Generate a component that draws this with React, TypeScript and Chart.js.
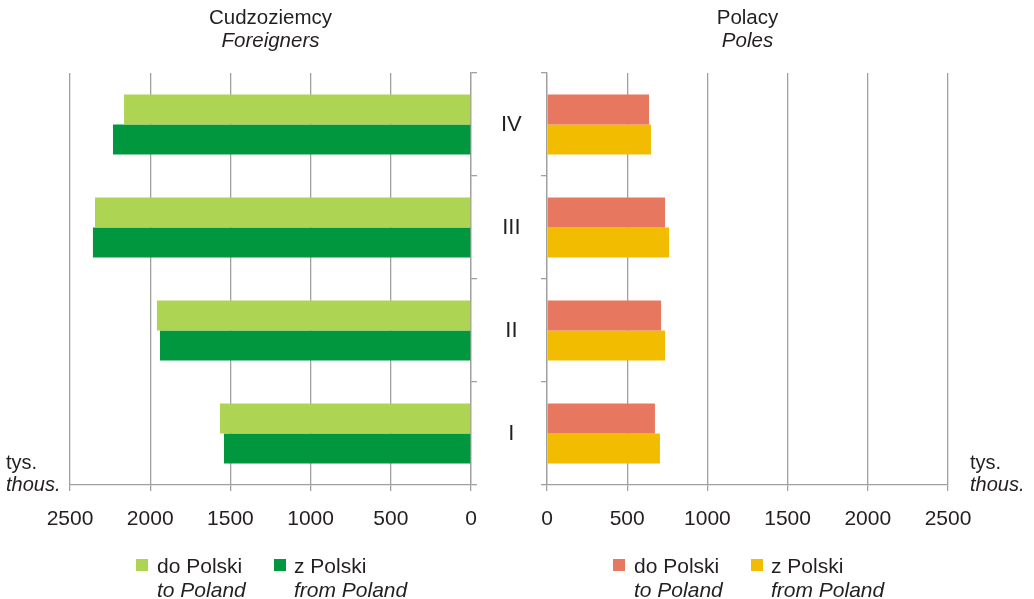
import React, { useEffect, useRef } from "react";
import { Chart, registerables } from "chart.js";

Chart.register(...registerables);

const quarters = ["I", "II", "III", "IV"];
const foreignersToPoland = [1565, 1958, 2344, 2163];
const foreignersFromPoland = [1540, 1939, 2357, 2232];
const polesToPoland = [673, 711, 736, 636];
const polesFromPoland = [704, 736, 761, 648];
const axisTicks = [0, 500, 1000, 1500, 2000, 2500];

const FONT = "'Liberation Sans', Arial, sans-serif";
const TEXT = "#231f20";
const GRID = "#a0a0a0";

const leftColors = ["#add452", "#00973f"];
const rightColors = ["#e8775f", "#f2bd00"];

const legendLabels = [
  ["do Polski", "to Poland"],
  ["z Polski", "from Poland"],
];

function makeTextPlugin(title: string, subtitle: string, colors: string[], unitX: number) {
  return {
    id: "panelText",
    afterDraw(chart: any) {
      const { ctx, chartArea } = chart;
      const cx = (chartArea.left + chartArea.right) / 2;
      ctx.save();
      ctx.fillStyle = TEXT;
      ctx.textBaseline = "alphabetic";
      ctx.textAlign = "center";
      ctx.font = `20.5px ${FONT}`;
      ctx.fillText(title, cx, 24);
      ctx.font = `italic 20.5px ${FONT}`;
      ctx.fillText(subtitle, cx, 46.5);
      // unit
      ctx.textAlign = "left";
      ctx.font = `20px ${FONT}`;
      ctx.fillText("tys.", unitX, 469);
      ctx.font = `italic 20px ${FONT}`;
      ctx.fillText("thous.", unitX, 490.5);
      // legend
      const offs = [
        [66, 87],
        [204, 224],
      ];
      for (let i = 0; i < 2; i++) {
        const sx = chartArea.left + offs[i][0];
        const tx = chartArea.left + offs[i][1];
        ctx.fillStyle = colors[i];
        ctx.fillRect(sx, 559, 12, 12);
        ctx.fillStyle = TEXT;
        ctx.font = `21px ${FONT}`;
        ctx.fillText(legendLabels[i][0], tx, 573);
        ctx.font = `italic 21px ${FONT}`;
        ctx.fillText(legendLabels[i][1], tx, 597);
      }
      ctx.restore();
    },
  };
}

const LEFT_W = 540;
const RIGHT_X = 520;
const RIGHT_W = 1034 - RIGHT_X;

function buildConfig(side: "left" | "right"): any {
  const isLeft = side === "left";
  const colors = isLeft ? leftColors : rightColors;
  const d1 = isLeft ? foreignersToPoland : polesToPoland;
  const d2 = isLeft ? foreignersFromPoland : polesFromPoland;
  return {
    type: "bar",
    data: {
      labels: quarters,
      datasets: [
        { label: "do Polski", data: d1, backgroundColor: colors[0], categoryPercentage: 0.583, barPercentage: 1 },
        { label: "z Polski", data: d2, backgroundColor: colors[1], categoryPercentage: 0.583, barPercentage: 1 },
      ],
    },
    options: {
      indexAxis: "y",
      responsive: false,
      animation: false,
      devicePixelRatio: 1,
      layout: {
        padding: isLeft
          ? { left: 70, right: LEFT_W - 526, top: 73, bottom: 0 }
          : { left: 0, right: RIGHT_W - (948 - RIGHT_X), top: 73, bottom: 0 },
      },
      plugins: {
        legend: { display: false },
        title: { display: false },
        tooltip: { enabled: false },
      },
      scales: {
        x: {
          type: "linear",
          min: 0,
          max: 2500,
          reverse: isLeft,
          afterBuildTicks: (scale: any) => {
            scale.ticks = axisTicks.map((v) => ({ value: v }));
          },
          afterFit: (scale: any) => {
            scale.height = 114;
          },
          grid: {
            color: GRID,
            lineWidth: 1.3,
            tickLength: 6,
            drawTicks: true,
          },
          border: { display: true, color: GRID, width: 1.3 },
          ticks: {
            font: { family: FONT, size: 21 },
            color: TEXT,
            padding: 16,
            maxRotation: 0,
            callback: (v: any) => String(v),
          },
        },
        y: {
          type: "category",
          position: isLeft ? "right" : "left",
          reverse: true,
          afterFit: (scale: any) => {
            scale.width = isLeft ? 55 : 547 - RIGHT_X;
          },
          grid: {
            drawOnChartArea: false,
            color: GRID,
            lineWidth: 1.3,
            tickLength: 6,
            offset: true,
          },
          border: { display: true, color: GRID, width: 1.3 },
          ticks: {
            display: isLeft,
            font: { family: FONT, size: 22 },
            color: TEXT,
            padding: 24,
            crossAlign: "center",
          },
        },
      },
    },
    plugins: [
      isLeft
        ? makeTextPlugin("Cudzoziemcy", "Foreigners", leftColors, 6)
        : makeTextPlugin("Polacy", "Poles", rightColors, 970 - RIGHT_X),
    ],
  };
}

function Panel({ side, left, width }: { side: "left" | "right"; left: number; width: number }) {
  const ref = useRef<HTMLCanvasElement | null>(null);
  useEffect(() => {
    if (!ref.current) return;
    const chart = new Chart(ref.current, buildConfig(side));
    return () => chart.destroy();
  }, [side]);
  return (
    <canvas
      ref={ref}
      width={width}
      height={599}
      style={{ position: "absolute", left, top: 0, width, height: 599, display: "block" }}
    />
  );
}

export default function App() {
  return (
    <div style={{ position: "absolute", left: 0, top: 0, width: 1034, height: 599, background: "#ffffff", overflow: "hidden" }}>
      <Panel side="left" left={0} width={LEFT_W} />
      <Panel side="right" left={RIGHT_X} width={RIGHT_W} />
    </div>
  );
}
